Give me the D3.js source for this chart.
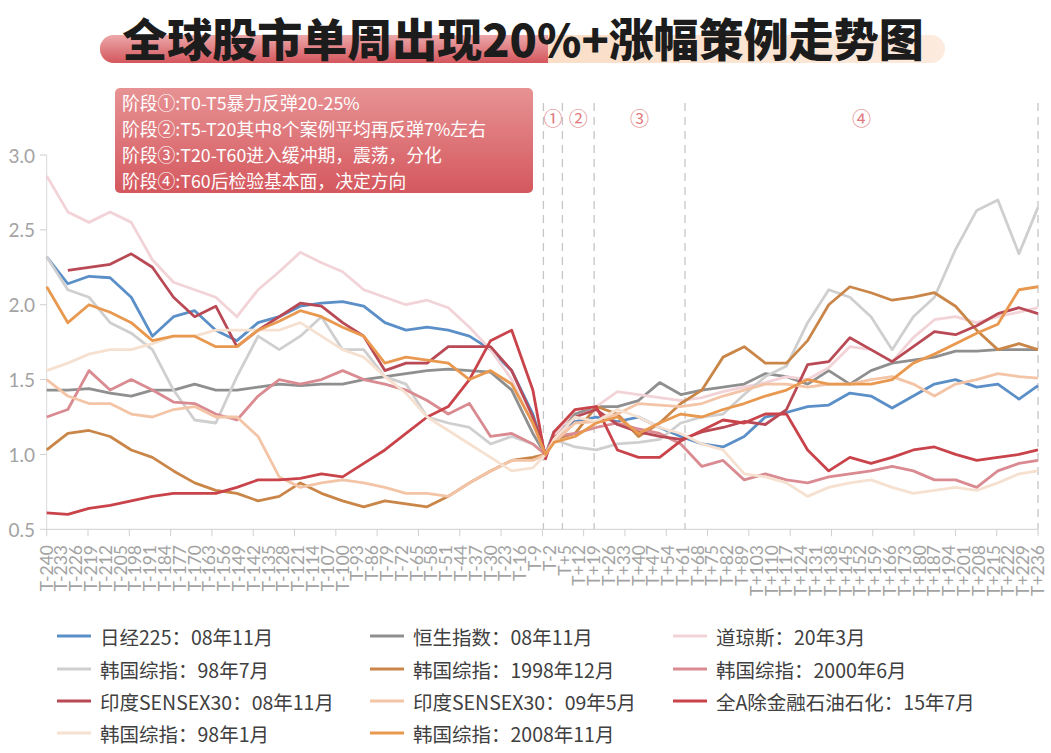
<!DOCTYPE html>
<html>
  <head>
    <meta charset="utf-8">
    <script type="text/javascript" src="https://cdn.jsdelivr.net/npm/d3@7/dist/d3.min.js"></script>
    <style>
      body { margin: 0; background: #fff; }
      svg { display: block; }
      .axis-text { fill: #a3a3a3; font-family: Lato, "Open Sans", sans-serif; }
      .legend text { fill: #404040; font: 19.5px "Noto Sans CJK SC", sans-serif; }
    </style>
  </head>
  <body>
    <svg id="chart"></svg>
    <script type="text/javascript">
      // ---- data ----
      // category labels (the source series skips T+90..T+96)
      var categories = [];
      for (var n = -240; n <= 236; n++) {
        if (n > 89 && n < 97) continue;
        categories.push(n === 0 ? 'T0' : 'T' + (n > 0 ? '+' : '') + n);
      }
      var sampleIdx = [0, 10, 20, 30, 40, 50, 60, 70, 80, 90, 100, 110, 120, 130, 140, 150, 160,
        170, 180, 190, 200, 210, 220, 230, 236,
        240, 250, 260, 270, 280, 290, 300, 310, 320, 330, 340, 350, 360, 370, 380, 390, 400,
        410, 420, 430, 440, 450, 460, 469];

      var nikkei = [2.32, 2.14, 2.19, 2.18, 2.05, 1.79, 1.92, 1.96, 1.83, 1.76, 1.88, 1.92, 1.99, 2.01, 2.02, 1.99, 1.88,
        1.83, 1.85, 1.83, 1.79, 1.70, 1.56, 1.27, 1.00,
        1.15, 1.22, 1.25, 1.22, 1.25, 1.18, 1.12, 1.07, 1.05, 1.12, 1.25, 1.28, 1.32, 1.33, 1.41, 1.39, 1.31,
        1.39, 1.47, 1.50, 1.45, 1.47, 1.37, 1.46];
      var hangseng = [1.43, 1.43, 1.44, 1.41, 1.39, 1.43, 1.43, 1.47, 1.43, 1.43, 1.45, 1.47, 1.46, 1.47, 1.47, 1.50, 1.52,
        1.54, 1.56, 1.57, 1.56, 1.55, 1.43, 1.14, 1.00,
        1.15, 1.27, 1.32, 1.32, 1.36, 1.48, 1.40, 1.43, 1.45, 1.47, 1.54, 1.52, 1.47, 1.56, 1.47, 1.56, 1.61,
        1.63, 1.65, 1.69, 1.69, 1.70, 1.70, 1.70];
      var dow = [2.86, 2.62, 2.55, 2.62, 2.55, 2.30, 2.15, 2.10, 2.05, 1.92, 2.10, 2.22, 2.35, 2.28, 2.22, 2.10, 2.05,
        2.00, 2.03, 1.98, 1.85, 1.70, 1.50, 1.20, 1.00,
        1.12, 1.30, 1.32, 1.42, 1.40, 1.38, 1.36, 1.38, 1.42, 1.45, 1.48, 1.52, 1.50, 1.58, 1.72, 1.70, 1.62,
        1.78, 1.90, 1.92, 1.88, 1.92, 1.95, 1.98];
      var kospi9807 = [2.32, 2.10, 2.05, 1.88, 1.81, 1.70, 1.43, 1.23, 1.21, 1.52, 1.79, 1.70, 1.79, 1.92, 1.70, 1.70, 1.52,
        1.47, 1.25, 1.21, 1.18, 1.07, 1.12, 1.07, 1.00,
        1.10, 1.05, 1.03, 1.07, 1.08, 1.10, 1.21, 1.25, 1.27, 1.40, 1.52, 1.59, 1.88, 2.10, 2.05, 1.92, 1.70,
        1.92, 2.05, 2.37, 2.63, 2.70, 2.34, 2.65];
      var kospi9812 = [1.03, 1.14, 1.16, 1.12, 1.03, 0.98, 0.89, 0.81, 0.76, 0.74, 0.69, 0.72, 0.81, 0.74, 0.69, 0.65, 0.69,
        0.67, 0.65, 0.72, 0.81, 0.89, 0.96, 0.98, 1.00,
        1.10, 1.14, 1.32, 1.27, 1.12, 1.21, 1.34, 1.43, 1.65, 1.72, 1.61, 1.61, 1.76, 2.00, 2.12, 2.08, 2.03,
        2.05, 2.08, 1.99, 1.83, 1.70, 1.74, 1.70];
      var kospi0006 = [1.25, 1.30, 1.56, 1.43, 1.50, 1.43, 1.35, 1.34, 1.27, 1.23, 1.39, 1.50, 1.47, 1.50, 1.56, 1.50, 1.47,
        1.43, 1.36, 1.27, 1.34, 1.12, 1.14, 1.07, 1.00,
        1.12, 1.14, 1.18, 1.21, 1.17, 1.14, 1.07, 0.92, 0.96, 0.83, 0.87, 0.83, 0.81, 0.85, 0.87, 0.89, 0.92,
        0.89, 0.83, 0.83, 0.78, 0.89, 0.94, 0.96];
      var sensex0811 = [null, 2.23, 2.25, 2.27, 2.34, 2.25, 2.05, 1.92, 1.99, 1.72, 1.83, 1.92, 2.01, 1.99, 1.88, 1.79, 1.56,
        1.61, 1.61, 1.72, 1.72, 1.72, 1.56, 1.25, 1.00,
        1.10, 1.25, 1.30, 1.20, 1.15, 1.12, 1.10, 1.15, 1.18, 1.22, 1.20, 1.30, 1.60, 1.62, 1.78, 1.70, 1.62,
        1.72, 1.82, 1.80, 1.86, 1.94, 1.98, 1.94];
      var sensex0905 = [1.50, 1.39, 1.34, 1.34, 1.27, 1.25, 1.30, 1.32, 1.25, 1.25, 1.12, 0.85, 0.78, 0.81, 0.83, 0.81, 0.78,
        0.74, 0.74, 0.72, 0.81, 0.89, 0.96, 0.96, 1.00,
        1.08, 1.21, 1.22, 1.27, 1.34, 1.33, 1.32, 1.34, 1.39, 1.43, 1.47, 1.47, 1.45, 1.47, 1.47, 1.50, 1.52,
        1.47, 1.39, 1.47, 1.50, 1.54, 1.52, 1.51];
      var allA1507 = [0.61, 0.60, 0.64, 0.66, 0.69, 0.72, 0.74, 0.74, 0.74, 0.78, 0.83, 0.83, 0.84, 0.87, 0.85, 0.94, 1.03,
        1.14, 1.25, 1.32, 1.50, 1.76, 1.83, 1.43, 0.97,
        1.15, 1.30, 1.32, 1.03, 0.98, 0.98, 1.09, 1.16, 1.23, 1.21, 1.27, 1.27, 1.03, 0.89, 0.98, 0.94, 0.98,
        1.03, 1.05, 1.00, 0.96, 0.98, 1.00, 1.03];
      var kospi9801 = [1.56, 1.61, 1.67, 1.70, 1.70, 1.74, 1.79, 1.79, 1.83, 1.83, 1.83, 1.83, 1.88, 1.79, 1.70, 1.65, 1.52,
        1.41, 1.25, 1.16, 1.07, 0.98, 0.89, 0.91, 1.00,
        1.10, 1.25, 1.22, 1.30, 1.25, 1.18, 1.14, 1.07, 1.03, 0.87, 0.85, 0.81, 0.72, 0.78, 0.81, 0.83, 0.78,
        0.74, 0.76, 0.78, 0.76, 0.81, 0.87, 0.89];
      var kospi0811 = [2.12, 1.88, 2.00, 1.95, 1.88, 1.76, 1.79, 1.79, 1.72, 1.72, 1.83, 1.89, 1.96, 1.92, 1.85, 1.79, 1.61,
        1.65, 1.63, 1.61, 1.50, 1.56, 1.47, 1.21, 1.00,
        1.08, 1.12, 1.21, 1.25, 1.14, 1.21, 1.27, 1.25, 1.30, 1.34, 1.39, 1.43, 1.50, 1.47, 1.47, 1.47, 1.50,
        1.61, 1.67, 1.74, 1.81, 1.87, 2.10, 2.12];

      var seriesNames = ['日经225：08年11月', '恒生指数：08年11月', '道琼斯：20年3月',
        '韩国综指：98年7月', '韩国综指：1998年12月', '韩国综指：2000年6月',
        '印度SENSEX30：08年11月', '印度SENSEX30：09年5月', '全A除金融石油石化：15年7月',
        '韩国综指：98年1月', '韩国综指：2008年11月'];
      var seriesValues = [nikkei, hangseng, dow, kospi9807, kospi9812, kospi0006,
        sensex0811, sensex0905, allA1507, kospi9801, kospi0811];
      var seriesColors = ['#5b8fc7', '#8f8f8f', '#f2d3d7', '#cfcfcf', '#c98648', '#d98b91',
        '#b94a55', '#f3c4a6', '#c9434b', '#f6e1d1', '#e9994f'];

      var yTicks = [0.5, 1.0, 1.5, 2.0, 2.5, 3.0];
      var phaseBounds = ['T-5', 'T+4', 'T+19', 'T+62', 'T+236'];
      var phaseLabels = ['①', '②', '③', '④'];
      var noteLines = ['阶段①:T0-T5暴力反弹20-25%',
        '阶段②:T5-T20其中8个案例平均再反弹7%左右',
        '阶段③:T20-T60进入缓冲期，震荡，分化',
        '阶段④:T60后检验基本面，决定方向'];
      var titleText = '全球股市单周出现20%+涨幅策例走势图';

      // ---- layout ----
      var W = 1051, H = 753;
      var svg = d3.select('#chart').attr('width', W).attr('height', H);
      var defs = svg.append('defs');

      var x = d3.scalePoint().domain(categories).range([46.7, 1038]);
      var y = d3.scaleLinear().domain([0.5, 3.0]).range([529.3, 155]);

      // title bar
      var gL = defs.append('linearGradient').attr('id', 'barL').attr('x1', 0).attr('y1', 0).attr('x2', 0).attr('y2', 1);
      gL.append('stop').attr('offset', '0%').attr('stop-color', '#eca8aa');
      gL.append('stop').attr('offset', '100%').attr('stop-color', '#d3565c');
      var gR = defs.append('linearGradient').attr('id', 'barR').attr('x1', 0).attr('y1', 0).attr('x2', 1).attr('y2', 0);
      gR.append('stop').attr('offset', '0%').attr('stop-color', '#f7cfae');
      gR.append('stop').attr('offset', '100%').attr('stop-color', '#fcebde');
      defs.append('clipPath').attr('id', 'barClip')
        .append('rect').attr('x', 100).attr('y', 35).attr('width', 845).attr('height', 28).attr('rx', 14);
      var bar = svg.append('g').attr('clip-path', 'url(#barClip)');
      bar.append('rect').attr('x', 100).attr('y', 35).attr('width', 845).attr('height', 28).attr('fill', 'url(#barR)');
      bar.append('rect').attr('x', 100).attr('y', 35).attr('width', 448).attr('height', 28).attr('fill', 'url(#barL)');

      svg.append('text')
        .attr('x', 523).attr('y', 37)
        .attr('text-anchor', 'middle').attr('dominant-baseline', 'central')
        .style('font', '900 45px "Noto Sans CJK SC", sans-serif')
        .style('fill', '#1c1c1c')
        .text(titleText);

      // axes
      svg.append('line').attr('x1', x.range()[0]).attr('x2', x.range()[0])
        .attr('y1', y(3.0)).attr('y2', y(0.5)).attr('stroke', '#d9d9d9');
      svg.append('line').attr('x1', x.range()[0]).attr('x2', x.range()[1])
        .attr('y1', y(0.5)).attr('y2', y(0.5)).attr('stroke', '#d0d0d0');

      var yAxis = svg.append('g');
      yAxis.selectAll('line').data(yTicks).enter().append('line')
        .attr('x1', 40).attr('x2', 46.7)
        .attr('y1', function (d) { return y(d); }).attr('y2', function (d) { return y(d); })
        .attr('stroke', '#d0d0d0');
      yAxis.selectAll('text').data(yTicks).enter().append('text')
        .attr('class', 'axis-text')
        .attr('x', 35).attr('y', function (d) { return y(d); })
        .attr('text-anchor', 'end').attr('dominant-baseline', 'central')
        .style('font-size', '19px')
        .text(function (d) { return d.toFixed(1); });

      // x tick marks: 25 evenly spaced marks along the category axis
      var nTicks = 24;
      var xTickPos = d3.range(nTicks + 1).map(function (k) {
        return x.range()[0] + k * (x.range()[1] - x.range()[0]) / nTicks;
      });
      svg.append('g').selectAll('line').data(xTickPos).enter().append('line')
        .attr('x1', function (d) { return d; }).attr('x2', function (d) { return d; })
        .attr('y1', y(0.5)).attr('y2', y(0.5) + 7)
        .attr('stroke', '#d0d0d0');

      var xLabels = categories.filter(function (c, i) { return i % 7 === 0; });
      svg.append('g').selectAll('text').data(xLabels).enter().append('text')
        .attr('class', 'axis-text')
        .attr('transform', function (d) { return 'translate(' + (x(d) + 6) + ',545) rotate(-90)'; })
        .attr('text-anchor', 'end')
        .style('font-size', '17.5px')
        .text(function (d) { return d; });

      // phase dashed lines & labels
      svg.append('g').selectAll('line').data(phaseBounds).enter().append('line')
        .attr('x1', function (d) { return x(d); }).attr('x2', function (d) { return x(d); })
        .attr('y1', 103).attr('y2', y(0.5))
        .attr('stroke', '#c6c6c6').attr('stroke-width', 1.3).attr('stroke-dasharray', '8,6');
      svg.append('g').selectAll('text').data(phaseLabels).enter().append('text')
        .attr('x', function (d, i) { return (x(phaseBounds[i]) + x(phaseBounds[i + 1])) / 2; })
        .attr('y', 117).attr('text-anchor', 'middle').attr('dominant-baseline', 'central')
        .style('font', '19px "Noto Sans CJK SC", sans-serif')
        .style('fill', '#e07a7e')
        .text(function (d) { return d; });

      // series lines
      var line = d3.line()
        .defined(function (d) { return d.v !== null; })
        .x(function (d) { return x(categories[d.i]); })
        .y(function (d) { return y(d.v); });
      var lines = svg.append('g');
      seriesValues.forEach(function (vals, s) {
        var pts = sampleIdx.map(function (i, k) { return { i: i, v: vals[k] }; });
        lines.append('path')
          .datum(pts)
          .attr('d', line)
          .attr('fill', 'none')
          .attr('stroke', seriesColors[s])
          .attr('stroke-width', 2.8)
          .attr('stroke-linejoin', 'round');
      });

      // note box
      var gN = defs.append('linearGradient').attr('id', 'noteG').attr('x1', 0).attr('y1', 0).attr('x2', 0).attr('y2', 1);
      gN.append('stop').attr('offset', '0%').attr('stop-color', '#e79294');
      gN.append('stop').attr('offset', '100%').attr('stop-color', '#d4585e');
      svg.append('rect').attr('x', 115).attr('y', 88).attr('width', 418).attr('height', 105)
        .attr('rx', 5).attr('fill', 'url(#noteG)');
      svg.append('g').selectAll('text').data(noteLines).enter().append('text')
        .attr('x', 122).attr('y', function (d, i) { return 102 + i * 26; })
        .attr('dominant-baseline', 'central')
        .style('font', '17.8px "Noto Sans CJK SC", sans-serif')
        .style('fill', '#fff')
        .text(function (d) { return d; });

      // legend
      var colX = [57, 370, 673];
      var rowY = [636, 669, 701, 733];
      var legend = svg.append('g').attr('class', 'legend');
      var item = legend.selectAll('g').data(seriesNames).enter().append('g')
        .attr('transform', function (d, i) {
          return 'translate(' + colX[i % 3] + ',' + rowY[Math.floor(i / 3)] + ')';
        });
      item.append('line').attr('x1', 0).attr('x2', 34).attr('y1', 0).attr('y2', 0)
        .attr('stroke', function (d, i) { return seriesColors[i]; })
        .attr('stroke-width', 3);
      item.append('text').attr('x', 43).attr('y', 0)
        .attr('dominant-baseline', 'central')
        .text(function (d) { return d; });
    </script>
  </body>
</html>
